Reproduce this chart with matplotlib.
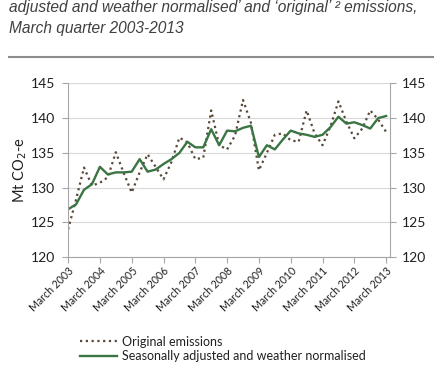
import matplotlib.pyplot as plt
import numpy as np

plt.rcParams['font.family'] = ['Lato', 'DejaVu Sans']

# quarterly series, March quarter 2003 .. March quarter 2013
original = [124.0, 128.3, 132.9, 130.3, 130.7, 131.5, 135.1, 132.1, 129.3, 132.2,
            134.8, 133.0, 131.2, 133.7, 137.2, 136.5, 134.1, 134.3, 141.1, 136.1,
            135.5, 137.5, 142.6, 139.3, 132.5, 135.0, 137.6, 137.8, 136.8, 136.6,
            141.1, 137.8, 136.1, 138.8, 142.4, 139.5, 137.1, 138.5, 141.1, 139.8,
            138.0]
adjusted = [126.9, 127.6, 129.7, 130.5, 133.0, 131.9, 132.2, 132.2, 132.3, 134.1,
            132.3, 132.6, 133.4, 134.1, 135.0, 136.6, 135.8, 135.8, 138.4, 136.1,
            138.2, 138.1, 138.6, 138.9, 134.4, 136.1, 135.5, 136.9, 138.2, 137.8,
            137.6, 137.3, 137.6, 138.7, 140.2, 139.2, 139.4, 139.0, 138.5, 140.0,
            140.3]
years = list(range(2003, 2014))
tick_labels = ['March %d' % y for y in years]

q = np.arange(len(original))

fig = plt.figure(figsize=(4.41, 3.81), dpi=100)
ax = fig.add_axes([0.1535, 0.3247, 0.7302, 0.4567])

ax.plot(q, original, linestyle=(0, (1, 1.6)), color='#5a4838', lw=1.6,
        label='Original emissions')
ax.plot(q, adjusted, color='#3a7543', lw=1.7,
        label='Seasonally adjusted and weather normalised')

ax.set_xlim(-0.05, 40.45)
ax.set_ylim(120, 145)
ax.set_yticks(np.arange(120, 146, 5))
ax.set_xticks(q[::4])
ax.set_xticklabels(tick_labels, rotation=45, ha='right', rotation_mode='anchor',
                   fontsize=7.6, color='#202020')
ax.yaxis.grid(True, color='#d9d9d9', lw=0.8)
ax.set_axisbelow(True)
ax.tick_params(axis='y', right=True, labelright=True, length=4, color='#a6a6a6',
               labelsize=10, labelcolor='#202020', pad=5)
ax.tick_params(axis='x', length=4, color='#a6a6a6', pad=2)
ax.spines['top'].set_visible(False)
for s in ['left', 'right', 'bottom']:
    ax.spines[s].set_color('#a6a6a6')
ax.set_ylabel('Mt CO$_2$-e', fontsize=10.5, color='#202020', labelpad=1)

fig.legend(loc='upper left', bbox_to_anchor=(0.181, 0.119), frameon=False,
           fontsize=9.0, handlelength=3.0, handletextpad=0.35, labelspacing=0.2,
           borderaxespad=0, borderpad=0, labelcolor='#202020')

fig.text(0.02, 0.9685, 'adjusted and weather normalised\u2019 and \u2018original\u2019 \u00b2 emissions,',
         family='Liberation Sans', style='italic', fontsize=11.2, color='#404040',
         va='baseline')
fig.text(0.02, 0.913, 'March quarter 2003-2013', family='Liberation Sans',
         style='italic', fontsize=11.2, color='#404040', va='baseline')
fig.add_artist(plt.Line2D([0.02, 0.982], [1 - 57 / 381] * 2, color='#8c8c8c', lw=1.5))

fig.savefig('out.png', dpi=100)
